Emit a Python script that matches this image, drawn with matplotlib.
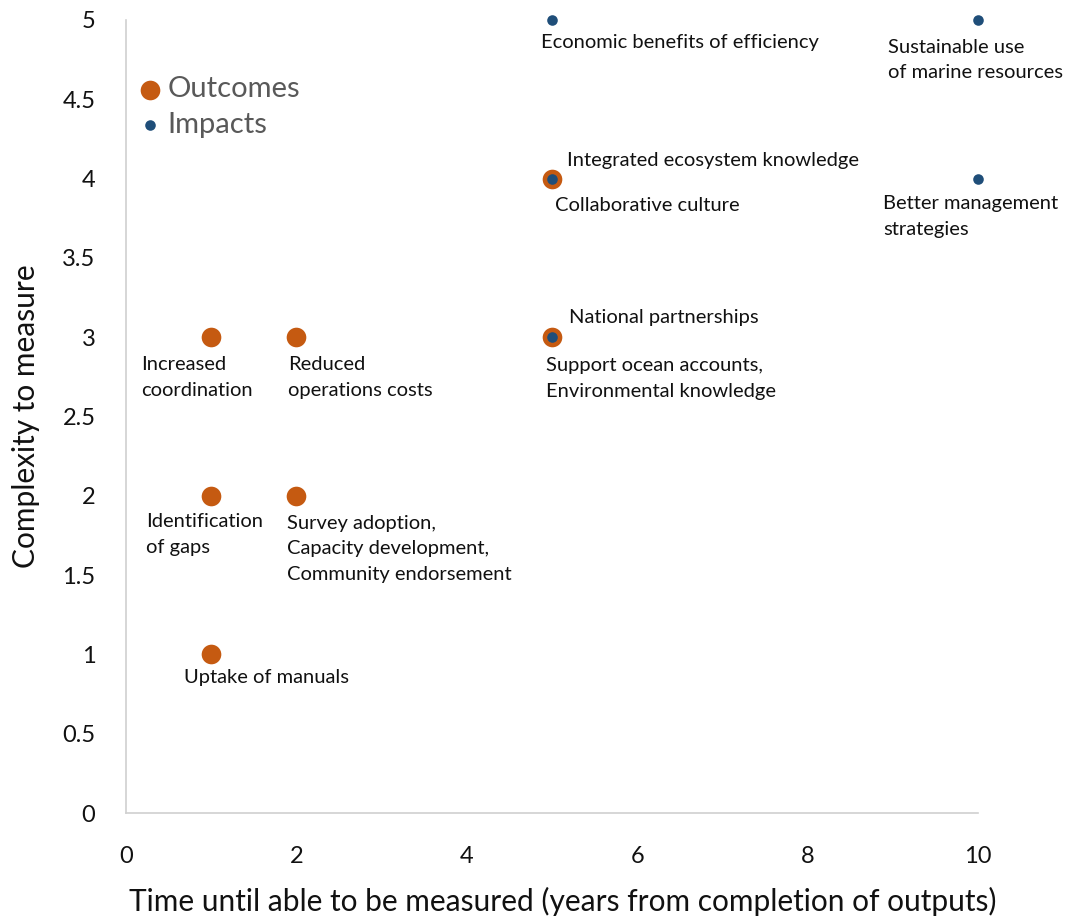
import matplotlib
matplotlib.use("Agg")
import matplotlib.pyplot as plt

plt.rcParams['font.family'] = ['Lato', 'DejaVu Sans']

# Outcomes (orange, larger markers)
outcome_x = [1, 2, 1, 2, 1, 5, 5]
outcome_y = [3, 3, 2, 2, 1, 4, 3]

# Impacts (blue, smaller markers)
impact_x = [5, 10, 5, 10, 5]
impact_y = [5, 5, 4, 4, 3]

# Point labels: (x, y, text, dx_px, dy_px)
labels = [
    (5, 5, "Economic benefits of efficiency", -11, -23),
    (10, 5, "Sustainable use\nof marine resources", -90, -40),
    (5, 4, "Integrated ecosystem knowledge", 15, 18),
    (5, 4, "Collaborative culture", 3, -27),
    (10, 4, "Better management\nstrategies", -95, -38),
    (5, 3, "National partnerships", 17, 20),
    (5, 3, "Support ocean accounts,\nEnvironmental knowledge", -6, -41),
    (1, 3, "Increased\ncoordination", -70, -40),
    (2, 3, "Reduced\noperations costs", -8, -40),
    (1, 2, "Identification\nof gaps", -65, -39),
    (2, 2, "Survey adoption,\nCapacity development,\nCommunity endorsement", -9, -53),
    (1, 1, "Uptake of manuals", -27, -23),
]

x_ticks = [0, 2, 4, 6, 8, 10]
y_ticks = [0, 0.5, 1, 1.5, 2, 2.5, 3, 3.5, 4, 4.5, 5]
y_tick_labels = ["0", "0.5", "1", "1.5", "2", "2.5", "3", "3.5", "4", "4.5", "5"]

orange = "#C55A11"
blue = "#1F4E79"

fig = plt.figure(figsize=(10.68, 9.18), dpi=100)
ax = fig.add_axes([126 / 1068, 1 - 813 / 918, (978 - 126) / 1068, (813 - 20) / 918])

ax.scatter(outcome_x, outcome_y, s=200, color=orange, zorder=3, label="Outcomes",
           linewidths=0, clip_on=False)
ax.scatter(impact_x, impact_y, s=58, color=blue, zorder=4, label="Impacts",
           linewidths=0, clip_on=False)

for x, y, text, dx, dy in labels:
    ax.annotate(text, xy=(x, y), xytext=(dx, dy), textcoords="offset pixels",
                ha="left", va="center", fontsize=14.5, color="#111111",
                linespacing=1.62)

ax.set_xlim(0, 10)
ax.set_ylim(0, 5)
ax.set_xticks(x_ticks)
ax.set_xticklabels([str(t) for t in x_ticks])
ax.set_yticks(y_ticks)
ax.set_yticklabels(y_tick_labels)
ax.tick_params(axis="both", length=0, labelsize=17, colors="#111111")
ax.tick_params(axis="x", pad=24)
ax.tick_params(axis="y", pad=22)

for side in ["top", "right"]:
    ax.spines[side].set_visible(False)
for side in ["left", "bottom"]:
    ax.spines[side].set_color("#D0D0D0")
    ax.spines[side].set_linewidth(1.2)

ax.set_xlabel("Time until able to be measured (years from completion of outputs)",
              fontsize=21.5, color="#111111", labelpad=14)
ax.xaxis.label.set_x(0.513)
ax.set_ylabel("Complexity to measure", fontsize=21.5, color="#111111", labelpad=16)

leg = ax.legend(loc="upper left", bbox_to_anchor=(0.0076, 0.929), frameon=False,
                fontsize=21, labelcolor="#595959", handletextpad=0.0,
                borderaxespad=0, borderpad=0, labelspacing=0.32, handlelength=1.2)

fig.savefig("out.png", dpi=100, facecolor="white")
